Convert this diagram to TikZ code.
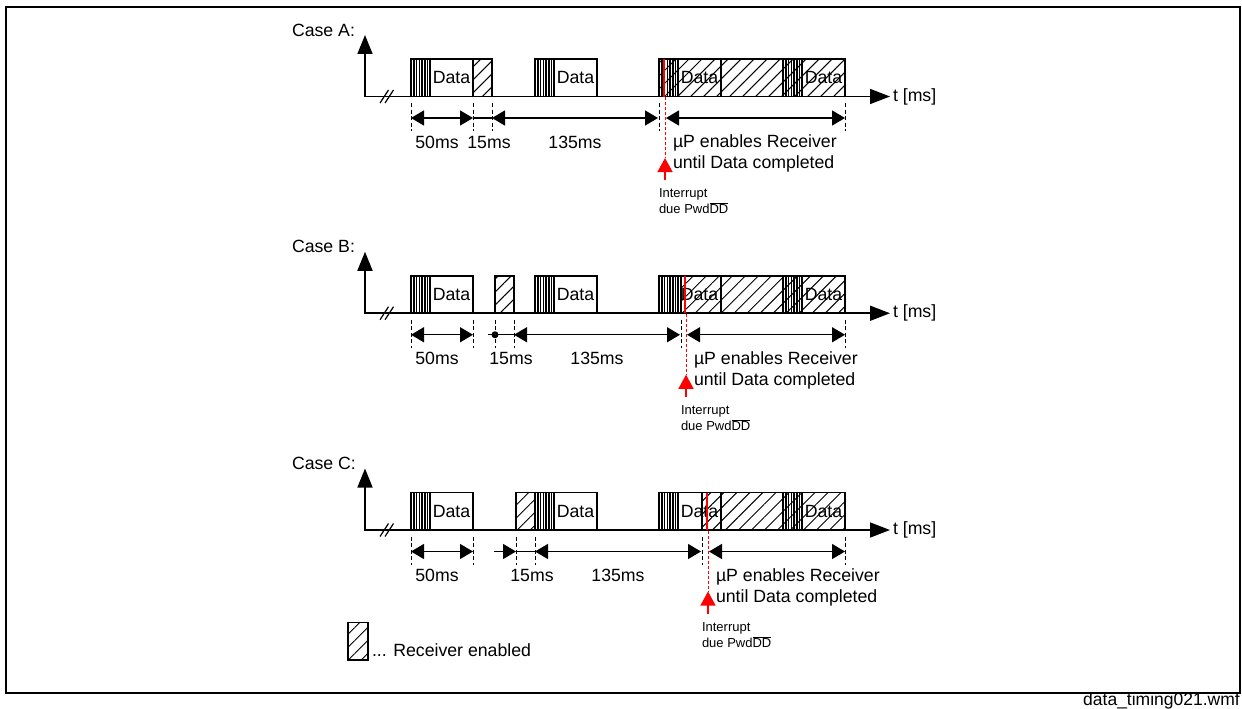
\documentclass[tikz,border=0pt]{standalone}
\usepackage{fontspec}
\setmainfont{Liberation Sans}
\usepackage{xcolor}
\usetikzlibrary{positioning,arrows.meta,patterns.meta}
\definecolor{IRQred}{HTML}{FF0000}
\tikzset{
  bit/.style={draw,line width=1.5pt,minimum height=37.5pt,inner sep=0pt,outer sep=0pt,font=\fontsize{17.7}{21}\selectfont},
  hatch/.style={bit,pattern={Lines[angle=45,distance=9.2pt,line width=1pt]}},
  axisarr/.style={{Triangle[length=19pt,width=15pt]}-{Triangle[length=20pt,width=15pt]},line width=1.6pt},
  dim/.style={{Triangle[length=13pt,width=15pt]}-{Triangle[length=13pt,width=15pt]},line width=1.4pt},
  dimtail/.style={-{Triangle[length=13pt,width=15pt]},line width=1.4pt},
  dimline/.style={line width=1.4pt},
  tick/.style={line width=1pt,dash pattern=on 4pt off 2.5pt},
  irq/.style={-{Triangle[length=14pt,width=15pt]},IRQred,line width=1.4pt},
  irqdash/.style={IRQred,line width=1pt,dash pattern=on 3pt off 2pt},
  txt/.style={inner sep=0pt,outer sep=0pt,anchor=west,align=left,font=\fontsize{17.7}{21}\selectfont},
  small/.style={inner sep=0pt,outer sep=0pt,anchor=west,align=left,font=\fontsize{13}{16}\selectfont},
}
% preamble of a frame: box with vertical stripes
\newcommand{\burstbox}[2]{%
  \node[bit,minimum width=19pt,anchor=south west] (#1) at (#2,96.5) {};
  \foreach \d in {3,5.5,8.5,11,14,16.5}{\draw[line width=1.3pt] (#1.south west) ++(\d,0) -- ++(0,-37.5);}
}
\begin{document}
\begin{tikzpicture}[x=1pt,y=-1pt]
\useasboundingbox (0,0) rectangle (1242,709);
\node[draw,line width=1.5pt,minimum width=1234pt,minimum height=686pt,inner sep=0pt,outer sep=0pt,anchor=north west] (frame) at (6,7) {};
\node[inner sep=0pt,anchor=base east,font=\fontsize{17.5}{21}\selectfont] (fname) at (1240,705) {data\_timing021.wmf};

\foreach \cs/\hx/\kx/\rx [count=\i from 0] in {A/473/659/665,B/495/681/686,C/516/702/708}{
\begin{scope}[yshift={-\i*216.75pt}]
  \node[txt] (case\cs) at (292,30) {Case \cs:};
  % axes
  \coordinate (o\cs) at (365,96.5);
  \coordinate (y\cs) at (365,35);
  \coordinate (t\cs) at (890,96.5);
  \draw[axisarr] (y\cs) -- (o\cs) -- (t\cs);
  \node[txt,right=3pt of t\cs] (tlab\cs) {t [ms]};
  \draw[line width=1.2pt] ([shift={(15,6.5)}]o\cs) -- ++(8.5,-13);
  \draw[line width=1.2pt] ([shift={(20,6.5)}]o\cs) -- ++(8.5,-13);
  % frames
  \burstbox{pa\cs}{411}
  \node[bit,minimum width=43pt,right=0pt of pa\cs] (da\cs) {Data};
  \node[hatch,minimum width=19pt,anchor=south west] (en\cs) at (\hx,96.5) {};
  \burstbox{pb\cs}{535}
  \node[bit,minimum width=43pt,right=0pt of pb\cs] (db\cs) {Data};
  \node[hatch,minimum width={(845-\kx)*1pt},anchor=south west] (rx\cs) at (\kx,96.5) {};
  \burstbox{pc\cs}{659}
  \node[bit,minimum width=43pt,right=0pt of pc\cs] (dc\cs) {Data};
  \node[bit,minimum width=62pt,right=0pt of dc\cs] (gap\cs) {};
  \burstbox{pd\cs}{783}
  \node[bit,minimum width=43pt,right=0pt of pd\cs] (dd\cs) {Data};
  % dashed ticks
  \foreach \tx in {411,473,\hx,\hx+19,\kx,845}{\draw[tick] (\tx,103) -- (\tx,131);}
  % dimensions
  \coordinate (la\cs) at (411,118);
  \coordinate (lb\cs) at (473,118);
  \coordinate (lc\cs) at (\hx+19,118);
  \coordinate (ld\cs) at (\kx-1,118);
  \coordinate (le\cs) at (\rx+1,118);
  \coordinate (lf\cs) at (845,118);
  \draw[dim] (la\cs) -- (lb\cs);
  \draw[dim] (lc\cs) -- (ld\cs);
  \draw[dim] (le\cs) -- (lf\cs);
  \node[txt,anchor=center] (m50\cs) at (437,142) {50ms};
  \node[txt,anchor=center] (m15\cs) at (\hx+16,142) {15ms};
  \node[txt,anchor=center] (m135\cs) at (\hx+102,142) {135ms};
  % interrupt
  \draw[IRQred,line width=2.4pt] (\rx-1,59) -- (\rx-1,96.5);
  \coordinate (ia\cs) at (\rx,97);
  \coordinate (ib\cs) at (\rx,158);
  \coordinate (ic\cs) at (\rx,180);
  \draw[irqdash] (ia\cs) -- (ib\cs);
  \draw[irq] (ic\cs) -- (ib\cs);
  \node[txt] (mu\cs) at (\rx+8,153.5) {µP enables Receiver\\until Data completed};
  \node[small] (int\cs) at (\kx,201.5) {Interrupt\\due Pwd$\overline{\mbox{DD}}$};
\end{scope}
}
% stretch between the dimension arrows, differs per case
\draw[dimline] (lbA) -- (lcA);
\coordinate (stubB) at (488,334.75);
\draw[dimline] (stubB) -- (lcB);
\node[circle,fill,inner sep=0pt,minimum size=7pt] (dotB) at (495,334.75) {};
\coordinate (stubC) at (494,551.5);
\coordinate (tipC) at (516,551.5);
\draw[dimtail] (stubC) -- (tipC);
\draw[dimline] (tipC) -- (lcC);
% legend
\node[hatch,minimum width=20pt,anchor=south west] (leg) at (348,660) {};
\node[txt,right=4pt of leg.south east,yshift=10pt] (legtxt) {... Receiver enabled};
\end{tikzpicture}
\end{document}
